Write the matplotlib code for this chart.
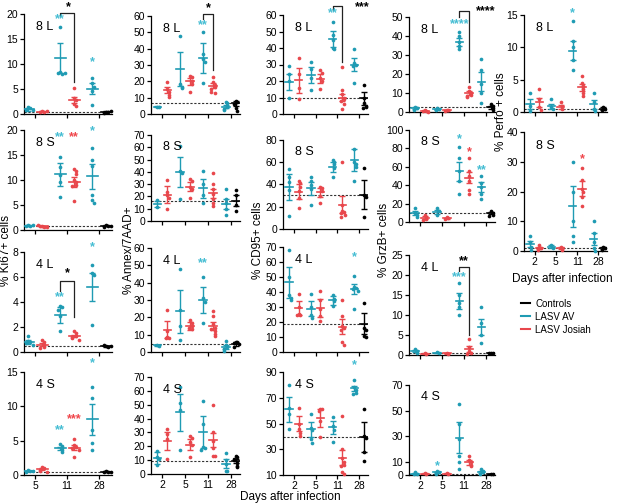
import matplotlib
matplotlib.use('Agg')
import matplotlib.pyplot as plt
from matplotlib.lines import Line2D
import numpy as np

plt.rcParams['font.family'] = ['Liberation Sans', 'DejaVu Sans']
plt.rcParams['font.size'] = 8

TEAL = '#1f9bb3'
RED = '#e8474c'
STAR_T = '#45bdd3'
STAR_R = '#f0474c'

W, H = 623, 504

days_ki = ['5', '11', '28']
days = ['2', '5', '11', '28']

# ---- Ki67 (groups: AV5, J5, AV11, J11, AV28, Ctrl)
ki_8L = [[1.5, 1.2, 0.8, 0.9], [0.6, 0.5, 0.4, 0.7], [17.5, 8.5, 8.0, 8.3, 8.2],
         [5.2, 3.3, 2.9, 2.0, 1.6], [7.3, 6.3, 5.5, 4.6, 1.8], [0.5, 0.4, 0.3, 0.6]]
ki_8L_mean = [1.0, 0.5, 11.3, 2.9, 5.1, 0.45]
ki_8L_err = [0.3, 0.1, 3.0, 0.6, 1.1, 0.1]
ki_8S = [[0.9, 0.8, 0.7, 1.0], [0.8, 0.6, 0.7, 0.5, 0.9], [14.7, 12.5, 11, 9.5, 6.5],
         [12.2, 11.8, 11.2, 10, 9.5, 9, 8.8, 5.8], [16.5, 14, 12.8, 7, 6, 5.3], [1.0, 0.8, 0.6, 0.7]]
ki_8S_mean = [0.85, 0.7, 11.1, 9.6, 10.7, 0.8]
ki_8S_err = [0.1, 0.1, 2.4, 1.0, 2.6, 0.1]
ki_4L = [[1.3, 0.9, 0.8, 0.7, 0.6], [1.0, 0.8, 0.6, 0.4, 0.3], [3.7, 3.6, 3.4, 2.9, 1.7],
         [1.7, 1.5, 1.3, 1.2, 1.1, 1.0], [7.0, 6.3, 6.2, 2.2], [0.5, 0.4, 0.6, 0.45]]
ki_4L_mean = [0.8, 0.6, 2.95, 1.3, 5.2, 0.45]
ki_4L_err = [0.15, 0.15, 0.65, 0.1, 1.1, 0.05]
ki_4S = [[0.7, 0.6, 0.5, 0.65], [1.2, 1.0, 0.8, 0.6, 0.5], [4.5, 4.2, 3.9, 3.6, 3.3],
         [5.3, 4.3, 4.1, 3.9, 3.7, 2.6], [12.8, 11.2, 6.5, 4.6, 3.6], [0.6, 0.5, 0.4, 0.45]]
ki_4S_mean = [0.6, 0.9, 3.9, 4.0, 8.1, 0.5]
ki_4S_err = [0.05, 0.15, 0.25, 0.35, 2.3, 0.05]

# ---- Annex/7AAD (groups: AV2, J2, AV5, J5, AV11, J11, AV28, Ctrl)
an_8L = [[4.5, 4.3], [19.6, 15.5, 13.5, 11.4, 10.2], [47.8, 18.3, 16.8, 15.8], [23.5, 22.5, 20.5, 18.5, 13.2],
         [50.2, 36.5, 33.5, 32, 18.8], [22.5, 19.8, 17.5, 16.5, 15.2, 12.8, 13.5], [7.5, 6.5, 5, 4, 3, 2.5],
         [8, 7.5, 6, 3.5, 2]]
an_8L_mean = [4.5, 14.8, 27.5, 20.0, 34.0, 17.2, 4.5, 6.5]
an_8L_err = [0.2, 1.8, 10.4, 2.0, 9.2, 1.5, 1.0, 1.5]
an_8S = [[17, 11], [33.5, 24, 21, 19, 9.5], [61, 41, 39, 18], [34, 32.5, 28, 26, 19],
         [41, 30, 21, 15], [39, 30, 26, 22, 18, 15, 12], [26, 18, 15, 10, 5], [25, 21, 13, 8]]
an_8S_mean = [14, 21.5, 40, 28, 26.5, 22.5, 14, 16.5]
an_8S_err = [2.5, 7, 12, 3.5, 7.5, 3.5, 4, 4.5]
an_4L = [[4, 3.6], [24, 12, 8.5, 8, 8], [48, 24, 15, 7], [18.5, 17, 15, 13.5, 14],
         [43, 31, 29, 16.5], [23.5, 21, 16, 14, 12, 10.5, 9.5, 13], [6.5, 4, 3, 2, 1.5, 0.5], [6, 5.5, 5, 4.5, 3]]
an_4L_mean = [3.8, 12.8, 23.5, 15, 29.8, 15, 2.8, 4.5]
an_4L_err = [0.3, 5, 12.5, 2.5, 7.5, 2.5, 1, 1]
an_4S = [[16.5, 12, 11, 6.5], [32.5, 29, 25, 10.5], [63, 51.5, 46, 17.5], [27.5, 26, 23, 21, 12.5],
         [53, 36, 19.5, 18.5, 17.5], [49.5, 30, 24, 19, 13, 13], [15.5, 10, 7, 2, 2], [13, 12, 11, 10, 8, 6, 5]]
an_4S_mean = [11.5, 23.5, 44.5, 21, 30, 24.5, 7.5, 9.5]
an_4S_err = [4.5, 6.5, 13.5, 4, 11.5, 5, 3.5, 1.5]

# ---- CD95
cd_8L = [[29, 24, 20, 10], [34, 24, 16, 9], [31.5, 27, 22, 14.5], [26.5, 25, 22, 20, 15],
         [56, 48, 45, 40, 39.5], [28.5, 14.5, 12, 10, 9, 8, 6, 3], [39.5, 31, 30, 29, 19], [17.5, 10, 6.5, 5, 4, 3.5]]
cd_8L_mean = [19.5, 20.5, 23.5, 21.5, 45.5, 10, 30, 9.5]
cd_8L_err = [5, 7.5, 5, 3, 5, 2, 4, 4]
cd_8S = [[53.5, 47, 42, 35, 12], [43, 41, 38, 34, 28, 19], [46.5, 43, 39.5, 36, 22], [37.5, 36.5, 34, 30, 23],
         [62, 60, 58, 55, 47], [60, 22, 16, 15, 14, 13, 11], [72, 60, 58, 56, 43], [54.5, 31, 28.5, 10.5]]
cd_8S_mean = [37.5, 33.5, 36.5, 33, 55.5, 22, 62, 31]
cd_8S_err = [11.5, 6.5, 6, 4, 4.5, 7.5, 10, 13]
cd_4L = [[68, 50, 38, 36, 35], [38.5, 30, 25.5, 25, 24.5], [38.5, 30, 25, 23], [40.5, 35, 29, 24, 20.5],
         [38, 35.5, 34, 31], [34.5, 24, 17.5, 16, 15, 7, 4.5], [51, 43.5, 42.5, 42, 41, 29], [32.5, 16, 14.5, 11, 10]]
cd_4L_mean = [46.5, 29.5, 29, 29.5, 34.5, 17, 42, 19]
cd_4L_err = [10.5, 4.5, 5, 6, 3, 5, 3.5, 7]
cd_4S = [[80, 62, 57, 46], [62, 50, 46, 43, 40], [57.5, 46.5, 45, 38, 35], [61.5, 61, 60, 52, 39.5],
         [55, 48, 45, 36], [56, 30, 23, 20, 18, 17, 12, 11], [84, 78, 76, 74, 73], [61, 40, 39, 28, 20.5]]
cd_4S_mean = [61, 50, 45.5, 54.5, 47, 23.5, 77.5, 39.5]
cd_4S_err = [9.5, 6, 6, 7, 5, 6, 2, 11.5]

# ---- GrzB
gz_8L = [[2.8, 2, 1.2], [1, 0.5, 0.3, 0.2], [2, 1.5, 1], [1.2, 0.8, 0.5],
         [42, 40, 37, 35, 33], [13, 11, 10, 9, 8.5, 8], [28, 22, 15, 10, 5], [4, 3, 2, 1]]
gz_8L_mean = [2, 0.5, 1.5, 0.8, 37, 10, 16, 2.5]
gz_8L_err = [0.5, 0.2, 0.3, 0.2, 2, 1, 5, 0.7]
gz_8S = [[15, 10, 8, 5], [8, 5, 3, 2], [15, 12, 8], [5, 4, 3],
         [82, 70, 55, 45, 30], [70, 55, 50, 45, 35, 30], [50, 42, 38, 30, 25], [12, 10, 8, 7]]
gz_8S_mean = [10, 4.5, 11, 4, 55, 48, 38, 10]
gz_8S_err = [2, 1.5, 2, 0.6, 10, 6, 5, 1]
gz_4L = [[1.5, 1, 0.5], [0.5, 0.2], [0.8, 0.5], [0.5, 0.3],
         [18, 15, 13, 12, 10], [4, 2, 1, 0.5, 0.3], [12, 8, 5, 3], [0.6, 0.5, 0.4]]
gz_4L_mean = [1, 0.3, 0.5, 0.4, 13.5, 1.5, 7, 0.5]
gz_4L_err = [0.3, 0.1, 0.1, 0.1, 2, 0.8, 2, 0.1]
gz_4S = [[2, 1, 0.5], [1.5, 0.5], [3, 2, 1], [1.5, 1],
         [55, 40, 28, 15, 10, 5], [15, 12, 10, 8, 7], [5, 3, 2, 1], [1, 0.5]]
gz_4S_mean = [1, 1, 2, 1, 29, 10, 2.5, 0.8]
gz_4S_err = [0.4, 0.5, 0.5, 0.3, 12, 2, 1, 0.2]

# ---- Perforin
pf_8L = [[3, 1, 0.2], [3.5, 2, 0.8, 0.3], [2, 0.8, 0.5], [1.5, 1, 0.5],
         [14, 11, 10, 8, 6.5], [5.5, 4.5, 4, 3.5, 3, 2.5], [3, 1.5, 0.5, 0.2], [0.8, 0.5, 0.3]]
pf_8L_mean = [1.2, 1.5, 0.9, 0.8, 9.5, 3.8, 1.2, 0.5]
pf_8L_err = [0.8, 0.7, 0.4, 0.3, 1.5, 0.5, 0.7, 0.2]
pf_8S = [[5, 3, 1.5, 0.5], [2, 1, 0.5], [2, 1], [1.5, 0.5],
         [30, 20, 10, 5, 3], [28, 24, 21, 20, 18, 15], [10, 6, 3, 1, 0], [1.5, 1, 0.5]]
pf_8S_mean = [2.5, 1, 1.5, 1, 15, 21, 4, 1]
pf_8S_err = [1, 0.4, 0.5, 0.4, 7, 2.5, 2, 0.3]

fig = plt.figure(figsize=(W / 100, H / 100), dpi=100)


def spread(vals, span):
    offs = []
    placed = []
    for v in vals:
        k = sum(1 for p in placed if abs(p - v) < 0.04 * span)
        if k == 0:
            offs.append(0.0)
        else:
            offs.append(((k + 1) // 2) * 0.07 * (1 if k % 2 else -1))
        placed.append(v)
    return np.array(offs)


def panel(rect, groups, means, errs, ylim, yticks, label, xt, ctrl=None,
          stars=(), bracket=None, show_x=False):
    l, t, r, b = rect
    ax = fig.add_axes([l / W, 1 - b / H, (r - l) / W, (b - t) / H])
    n = len(xt)
    xs = []
    for i in range(n):
        xs += [i - 0.22, i + 0.22]
    cols = [TEAL, RED] * (n - 1) + [TEAL, 'black']
    span = ylim[1] - ylim[0]
    for x, g, m, e, c in zip(xs, groups, means, errs, cols):
        g = np.array(g, float)
        ax.scatter(x + spread(g, span), g, s=7, color=c, zorder=3, lw=0, clip_on=False)
        ax.plot([x - 0.17, x + 0.17], [m, m], color=c, lw=1.2, zorder=4)
        ax.errorbar(x, m, yerr=e, color=c, lw=1.0, capsize=2.2, capthick=1.0, zorder=4)
    if ctrl is None:
        ctrl = means[-1]
    ax.axhline(ctrl, color='#333333', lw=0.8, ls=(0, (2, 1.5)), zorder=2)
    for gi, txt, y, c in stars:
        ax.text(xs[gi], y, txt, color=c, ha='center', va='center', fontsize=9,
                fontweight='bold', clip_on=False)
    if bracket is not None:
        g1, g2, ytop, y1, y2, txt, tx, ty = bracket
        ax.plot([xs[g1], xs[g1], xs[g2], xs[g2]], [y1, ytop, ytop, y2],
                color='#222222', lw=0.9, clip_on=False)
        ax.text(tx, ty, txt, ha='center', va='center', fontsize=9,
                fontweight='bold', clip_on=False)
    ax.set_ylim(*ylim)
    ax.set_yticks(yticks)
    ax.set_xlim(-0.5 if n == 4 else -0.35, n - 0.6)
    ax.set_xticks(range(n))
    ax.set_xticklabels(xt if show_x else [])
    for s in ['top', 'right']:
        ax.spines[s].set_visible(False)
    for s in ['left', 'bottom']:
        ax.spines[s].set_linewidth(0.9)
    ax.tick_params(direction='out', length=3, width=0.9, labelsize=7.5, pad=1.2)
    ax.text(0.14, 0.93, label, transform=ax.transAxes, fontsize=9, va='top')
    return ax


C1 = (24, 112)
C2 = (151, 240)
C3 = (283, 368)
C4 = (409, 495)
C5 = (524, 607)

# column 1
panel((C1[0], 14, C1[1], 114), ki_8L, ki_8L_mean, ki_8L_err, (0, 20), [0, 5, 10, 15, 20], '8 L', days_ki,
      stars=[(2, '**', 19, STAR_T), (4, '*', 10.4, STAR_T)],
      bracket=(2, 3, 20.2, 19.6, 6.5, '*', 1.05, 21.3))
panel((C1[0], 130, C1[1], 230), ki_8S, ki_8S_mean, ki_8S_err, (0, 20), [0, 5, 10, 15, 20], '8 S', days_ki,
      stars=[(2, '**', 18.5, STAR_T), (3, '**', 18.5, STAR_R), (4, '*', 19.8, STAR_T)])
panel((C1[0], 252, C1[1], 352), ki_4L, ki_4L_mean, ki_4L_err, (0, 8), [0, 2, 4, 6, 8], '4 L', days_ki,
      stars=[(2, '**', 4.4, STAR_T), (4, '*', 8.4, STAR_T)],
      bracket=(2, 3, 5.7, 4.9, 2.8, '*', 1.0, 6.3))
panel((C1[0], 372, C1[1], 475), ki_4S, ki_4S_mean, ki_4S_err, (0, 15), [0, 5, 10, 15], '4 S', days_ki,
      stars=[(2, '**', 6.6, STAR_T), (3, '***', 8.2, STAR_R), (4, '*', 16.3, STAR_T)], show_x=True)

# column 2
panel((C2[0], 16, C2[1], 114), an_8L, an_8L_mean, an_8L_err, (0, 60), range(0, 61, 10), '8 L', days,
      stars=[(4, '**', 54.5, STAR_T)],
      bracket=(4, 5, 61, 58, 27, '*', 2.0, 64.5))
panel((C2[0], 135, C2[1], 221), an_8S, an_8S_mean, an_8S_err, (0, 70), range(0, 71, 10), '8 S', days)
panel((C2[0], 248, C2[1], 352), an_4L, an_4L_mean, an_4L_err, (0, 60), range(0, 61, 10), '4 L', days,
      stars=[(4, '**', 51.5, STAR_T)])
panel((C2[0], 377, C2[1], 474), an_4S, an_4S_mean, an_4S_err, (0, 70), range(0, 71, 10), '4 S', days,
      show_x=True)

# column 3
panel((C3[0], 15, C3[1], 114), cd_8L, cd_8L_mean, cd_8L_err, (0, 60), range(0, 61, 10), '8 L', days,
      stars=[(4, '**', 61, STAR_T)],
      bracket=(4, 5, 65.5, 63, 31.5, '***', 3.15, 64.5))
panel((C3[0], 140, C3[1], 229), cd_8S, cd_8S_mean, cd_8S_err, (0, 80), [0, 20, 40, 60, 80], '8 S', days)
panel((C3[0], 247, C3[1], 352), cd_4L, cd_4L_mean, cd_4L_err, (0, 70), range(0, 71, 10), '4 L', days,
      stars=[(6, '*', 63, STAR_T)])
panel((C3[0], 372, C3[1], 475), cd_4S, cd_4S_mean, cd_4S_err, (10, 90), [10, 30, 50, 70, 90], '4 S', days,
      stars=[(6, '*', 95, STAR_T)], show_x=True)

# column 4
panel((C4[0], 17, C4[1], 112), gz_8L, gz_8L_mean, gz_8L_err, (0, 50), range(0, 51, 10), '8 L', days,
      stars=[(4, '****', 46, STAR_T)],
      bracket=(4, 5, 53, 50, 16, '****', 3.0, 53))
panel((C4[0], 130, C4[1], 222), gz_8S, gz_8S_mean, gz_8S_err, (0, 100), range(0, 101, 20), '8 S', days,
      stars=[(4, '*', 90, STAR_T), (5, '*', 76, STAR_R), (6, '**', 56, STAR_T)])
panel((C4[0], 255, C4[1], 355), gz_4L, gz_4L_mean, gz_4L_err, (0, 25), range(0, 26, 5), '4 L', days,
      stars=[(4, '***', 19.5, STAR_T)],
      bracket=(4, 5, 22, 21, 5, '**', 2.0, 23.5))
panel((C4[0], 385, C4[1], 475), gz_4S, gz_4S_mean, gz_4S_err, (0, 70), [0, 10, 30, 50, 70], '4 S', days,
      stars=[(2, '*', 7, STAR_T)], show_x=True)

# column 5
panel((C5[0], 15, C5[1], 112), pf_8L, pf_8L_mean, pf_8L_err, (0, 15), [0, 5, 10, 15], '8 L', days,
      stars=[(4, '*', 15.3, STAR_T)])
panel((C5[0], 132, C5[1], 251), pf_8S, pf_8S_mean, pf_8S_err, (0, 40), range(0, 41, 10), '8 S', days,
      stars=[(5, '*', 31, STAR_R)], show_x=True)

# axis titles
fig.text(6 / W, 1 - 250 / H, '% Ki67+ cells', rotation=90, ha='center', va='center', fontsize=8.5)
fig.text(129 / W, 1 - 250 / H, '% Annex/7AAD+', rotation=90, ha='center', va='center', fontsize=8.5)
fig.text(258 / W, 1 - 240 / H, '% CD95+ cells', rotation=90, ha='center', va='center', fontsize=8.5)
fig.text(384 / W, 1 - 240 / H, '% GrzB+ cells', rotation=90, ha='center', va='center', fontsize=8.5)
fig.text(501 / W, 1 - 112 / H, '% Perfo + cells', rotation=90, ha='center', va='center', fontsize=8.5)
fig.text(290 / W, 1 - 497 / H, 'Days after infection', ha='center', va='center', fontsize=8.5)
fig.text(562 / W, 1 - 279 / H, 'Days after infection', ha='center', va='center', fontsize=8.5)

handles = [Line2D([], [], color='black', lw=1.5), Line2D([], [], color=TEAL, lw=1.5),
           Line2D([], [], color=RED, lw=1.5)]
fig.legend(handles, ['Controls', 'LASV AV', 'LASV Josiah'], loc='upper left',
           bbox_to_anchor=(512 / W, 1 - 290 / H), frameon=False, fontsize=7,
           handlelength=1.0, handletextpad=0.5, labelspacing=0.3)

fig.savefig('out.png', dpi=100)
